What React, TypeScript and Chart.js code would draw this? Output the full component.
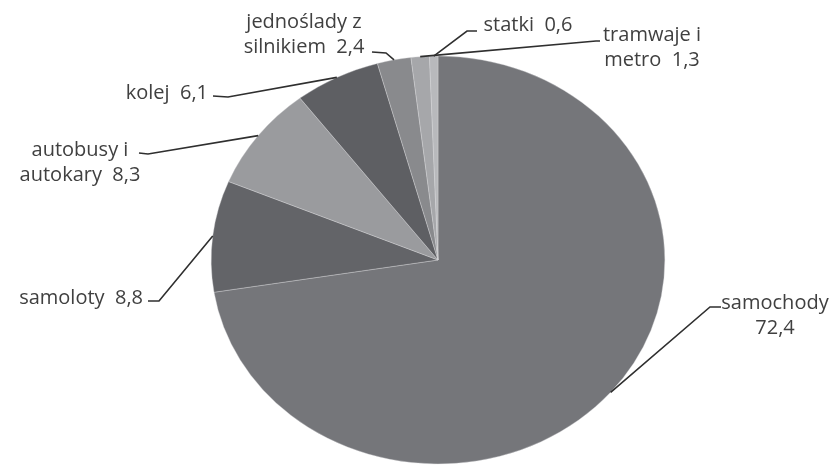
import React, { useEffect, useRef } from "react";
import { Chart, registerables } from "chart.js";

Chart.register(...registerables);

// Share of transport modes (%)
const categories = [
  "samochody",
  "samoloty",
  "autobusy i autokary",
  "kolej",
  "jednoślady z silnikiem",
  "tramwaje i metro",
  "statki",
];
const shares = [72.4, 8.8, 8.3, 6.1, 2.4, 1.3, 0.6];
const sliceColors = ["#75767a", "#636468", "#9a9b9e", "#5e5f63", "#898a8d", "#a6a7aa", "#b8b9bc"];
// label lines per slice; {v} is replaced by the formatted value
const labelLines = [
  ["samochody", "{v}"],
  ["samoloty  {v}"],
  ["autobusy i", "autokary  {v}"],
  ["kolej  {v}"],
  ["jednoślady z", "silnikiem  {v}"],
  ["tramwaje i", "metro  {v}"],
  ["statki  {v}"],
];

const W = 837;
const H = 466;
const RADIUS = 204;
const STRETCH_X = 1.112; // pie is drawn as a slightly wide ellipse

// label placement: text anchor, alignment and the leader's elbow
type LabelPos = { x: number; y: number; align: CanvasTextAlign; from: [number, number]; elbow: [number, number] };
const labelLayout: LabelPos[] = [
  { x: 775, y: 303, align: "center", from: [721, 307], elbow: [710, 307] },
  { x: 143, y: 298, align: "right", from: [148, 301], elbow: [159, 301] },
  { x: 80, y: 150, align: "center", from: [139, 153], elbow: [148, 154] },
  { x: 208, y: 93, align: "right", from: [213, 96], elbow: [228, 97] },
  { x: 304, y: 22, align: "center", from: [372, 52], elbow: [386, 53] },
  { x: 652, y: 35, align: "center", from: [600, 41], elbow: [596, 41] },
  { x: 528, y: 25, align: "center", from: [477, 31], elbow: [467, 31] },
];

const fmt = (v: number) => v.toFixed(1).replace(".", ",");

export default function App() {
  const ref = useRef<HTMLCanvasElement | null>(null);

  useEffect(() => {
    const canvas = ref.current;
    if (!canvas) return;

    const stretchPlugin = {
      id: "stretchPie",
      beforeDatasetsDraw(chart: any) {
        const arc = chart.getDatasetMeta(0).data[0];
        const ctx = chart.ctx;
        ctx.save();
        ctx.translate(arc.x, arc.y);
        ctx.scale(STRETCH_X, 1);
        ctx.translate(-arc.x, -arc.y);
      },
      afterDatasetsDraw(chart: any) {
        chart.ctx.restore();
      },
    };

    const labelPlugin = {
      id: "sliceLabels",
      afterDraw(chart: any) {
        const ctx = chart.ctx;
        const arcs = chart.getDatasetMeta(0).data;
        ctx.save();
        ctx.font = '20px "Open Sans", sans-serif';
        ctx.fillStyle = "#404040";
        ctx.textBaseline = "middle";
        ctx.strokeStyle = "#2f2f2f";
        ctx.lineWidth = 1.6;
        arcs.forEach((arc: any, i: number) => {
          const pos = labelLayout[i];
          const mid = (arc.startAngle + arc.endAngle) / 2;
          const px = arc.x + STRETCH_X * arc.outerRadius * Math.cos(mid);
          const py = arc.y + arc.outerRadius * Math.sin(mid);
          ctx.beginPath();
          ctx.moveTo(pos.from[0], pos.from[1]);
          ctx.lineTo(pos.elbow[0], pos.elbow[1]);
          ctx.lineTo(px, py);
          ctx.stroke();
          ctx.textAlign = pos.align;
          labelLines[i].forEach((line, j) => {
            ctx.fillText(line.replace("{v}", fmt(shares[i])), pos.x, pos.y + j * 25);
          });
        });
        ctx.restore();
      },
    };

    const chart = new Chart(canvas, {
      type: "pie",
      data: {
        labels: categories,
        datasets: [
          {
            data: shares,
            backgroundColor: sliceColors,
            borderColor: "rgba(215,215,218,0.45)",
            borderWidth: 0.8,
            radius: RADIUS,
          },
        ],
      },
      options: {
        responsive: false,
        animation: false,
        layout: { padding: { top: 56, bottom: 2, left: 234, right: 195 } },
        plugins: { legend: { display: false }, tooltip: { enabled: false } },
      },
      plugins: [stretchPlugin, labelPlugin],
    });
    return () => chart.destroy();
  }, []);

  return (
    <div style={{ position: "fixed", left: 0, top: 0, width: W, height: H, background: "#fff" }}>
      <canvas ref={ref} width={W} height={H} style={{ width: W, height: H, display: "block" }} />
    </div>
  );
}
